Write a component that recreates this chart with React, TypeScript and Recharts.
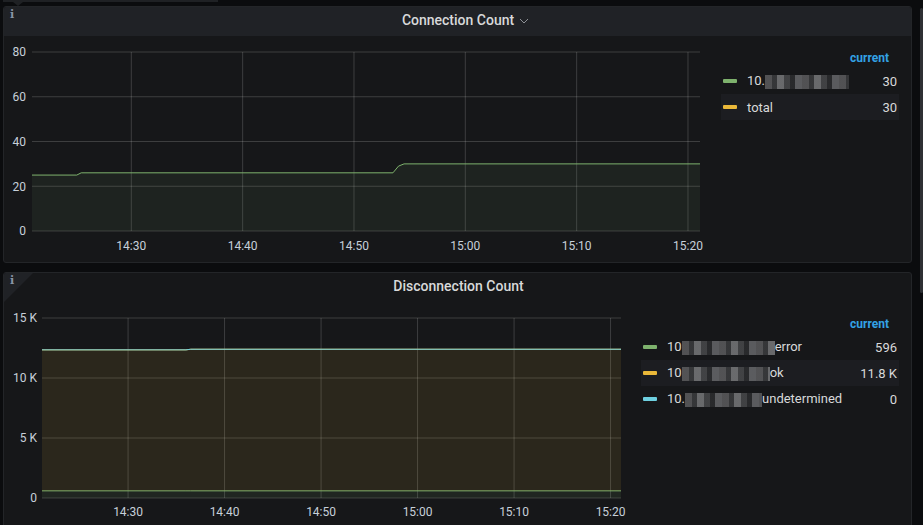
import { Area, AreaChart, CartesianGrid, XAxis, YAxis } from 'recharts'

// time is minutes since midnight (861 = 14:21)
const connTimes = [861, 865.1, 865.5, 893.5, 894.0, 894.5, 922]
const connValues = [25, 25, 26, 26, 29, 30, 30]

const discTimes = [861, 876, 876.5, 922]
const discError = [596, 596, 596, 596]
const discOk = [11750, 11750, 11800, 11800]
const discUndetermined = [0, 0, 0, 0]

const timeTicks = [870, 880, 890, 900, 910, 920]
const connTicks = [0, 20, 40, 60, 80]
const discTicks = [0, 5000, 10000, 15000]

// '#' marks the blurred part of the series name
const connNames = ['10.#', 'total']
const connCurrent = ['30', '30']
const discNames = ['10#error', '10#ok', '10.#undetermined']
const discCurrent = ['596', '11.8 K', '0']

const connData = connTimes.map((t, i) => ({ t, conn: connValues[i] }))
const discData = discTimes.map((t, i) => ({
  t,
  error: discError[i],
  ok: discOk[i],
  undetermined: discUndetermined[i],
}))

const GREEN = '#7eb26d'
const YELLOW = '#eab839'
const CYAN = '#6ed0e0'
const GRID = 'rgba(255,255,255,0.17)'
const TICK = { fill: '#c7d0d9', fontSize: 12, fontFamily: 'Roboto' }
const X_DOMAIN: [number, number] = [861.08, 921.08]

const fmtTime = (m: number) => {
  const h = Math.floor(m / 60)
  const mm = Math.round(m - h * 60)
  return `${h}:${mm < 10 ? '0' + mm : mm}`
}
const fmtK = (v: number) => (v === 0 ? '0' : `${v / 1000} K`)

// vertical grid only at the time ticks, not at the plot edges
const timeGridLines = ({ xAxis, offset }: any) =>
  timeTicks.map((t) =>
    xAxis && typeof xAxis.scale === 'function'
      ? xAxis.scale(t)
      : offset.left + ((t - X_DOMAIN[0]) / (X_DOMAIN[1] - X_DOMAIN[0])) * offset.width,
  )

function Mosaic({ width }: { width: number }) {
  return (
    <span
      style={{
        display: 'inline-block',
        width,
        height: 14,
        verticalAlign: 'middle',
        background:
          'repeating-linear-gradient(90deg, #5c5c5e 0 7px, #3b3c3e 7px 12px, #77787a 12px 19px, #48494b 19px 25px, #2c2d2f 25px 30px, #66676a 30px 37px)',
        opacity: 0.85,
      }}
    />
  )
}

function LegendBlock({
  left,
  top,
  names,
  current,
  colors,
  masks,
  highlight,
}: {
  left: number
  top: number
  names: string[]
  current: string[]
  colors: string[]
  masks: number[]
  highlight: number
}) {
  const width = 899 - left
  return (
    <div style={{ position: 'absolute', left, top, width, fontFamily: 'Roboto', fontSize: 13, color: '#d8d9da' }}>
      <div
        style={{
          position: 'absolute',
          right: 10,
          top: 0,
          height: 16,
          lineHeight: '16px',
          color: '#33a2e5',
          fontWeight: 700,
          fontSize: 12,
        }}
      >
        current
      </div>
      {names.map((n, i) => {
        const [pre, post] = n.includes('#') ? n.split('#') : [n, null]
        return (
          <div
            key={i}
            style={{
              position: 'absolute',
              left: 0,
              top: 18 + i * 26,
              width,
              height: 26,
              display: 'flex',
              alignItems: 'center',
              background: i === highlight ? '#1c1d21' : 'transparent',
            }}
          >
            <span style={{ width: 14, height: 4, marginLeft: 2, background: colors[i], borderRadius: 1 }} />
            <span style={{ marginLeft: 10, whiteSpace: 'nowrap' }}>
              {pre}
              {post !== null && <Mosaic width={masks[i]} />}
              {post}
            </span>
            <span style={{ marginLeft: 'auto', marginRight: 2 }}>{current[i]}</span>
          </div>
        )
      })}
    </div>
  )
}

function InfoIcon({ top }: { top: number }) {
  return (
    <div
      style={{
        position: 'absolute',
        left: 10,
        top,
        fontFamily: 'DejaVu Serif',
        fontWeight: 700,
        fontSize: 11,
        color: '#8a94a6',
        lineHeight: '12px',
      }}
    >
      i
    </div>
  )
}

export default function App() {
  return (
    <div
      style={{
        position: 'absolute',
        left: 0,
        top: 0,
        width: 923,
        height: 525,
        overflow: 'hidden',
        background: '#0b0c0e',
        fontFamily: 'Roboto',
      }}
    >
      {/* tooltip remnant at the top */}
      <div style={{ position: 'absolute', left: 3, top: 0, width: 215, height: 2, background: '#1f2124' }} />
      <div
        style={{
          position: 'absolute',
          left: 13,
          top: 2,
          width: 0,
          height: 0,
          borderLeft: '5px solid transparent',
          borderRight: '5px solid transparent',
          borderTop: '4px solid #1f2124',
        }}
      />
      {/* scrollbar */}
      <div style={{ position: 'absolute', left: 920, top: 8, width: 3, height: 285, background: '#2e3034', borderRadius: 2 }} />

      {/* panel 1 */}
      <div
        style={{
          position: 'absolute',
          left: 3,
          top: 6,
          width: 907,
          height: 255,
          background: '#161719',
          border: '1px solid #232528',
          borderRadius: 3,
          overflow: 'hidden',
        }}
      >
        <div style={{ position: 'absolute', left: 0, top: 0, width: '100%', height: 29, background: '#202226' }} />
      </div>
      <InfoIcon top={9} />
      <div
        style={{
          position: 'absolute',
          left: 0,
          width: 923,
          top: 11,
          textAlign: 'center',
          color: '#d8d9da',
          fontSize: 14,
          fontWeight: 500,
          lineHeight: '18px',
        }}
      >
        <span style={{ marginLeft: 8 }}>Connection Count</span>
        <svg width={10} height={8} style={{ marginLeft: 5, verticalAlign: 'middle' }}>
          <polyline points="1,2 5,6 9,2" fill="none" stroke="#8e9196" strokeWidth={1} />
        </svg>
      </div>

      <div style={{ position: 'absolute', left: 0, top: 40 }}>
        <AreaChart width={710} height={220} data={connData} margin={{ top: 12, right: 10, bottom: 0, left: 0 }}>
          <CartesianGrid stroke={GRID} verticalCoordinatesGenerator={timeGridLines} />
          <XAxis
            dataKey="t"
            type="number"
            domain={X_DOMAIN}
            allowDataOverflow
            ticks={timeTicks}
            tickFormatter={fmtTime}
            tick={TICK}
            tickSize={0}
            tickMargin={10}
            axisLine={false}
            height={29}
          />
          <YAxis
            type="number"
            domain={[0, 80]}
            ticks={connTicks}
            tick={TICK}
            tickSize={0}
            tickMargin={6}
            axisLine={false}
            width={32}
          />
          <Area
            type="linear"
            dataKey="conn"
            stroke={GREEN}
            strokeWidth={1}
            fill={GREEN}
            fillOpacity={0.08}
            dot={false}
            activeDot={false}
            isAnimationActive={false}
          />
        </AreaChart>
      </div>

      <LegendBlock
        left={721}
        top={50}
        names={connNames}
        current={connCurrent}
        colors={[GREEN, YELLOW]}
        masks={[84, 0]}
        highlight={1}
      />

      {/* panel 2 */}
      <div
        style={{
          position: 'absolute',
          left: 3,
          top: 272,
          width: 907,
          height: 270,
          background: '#161719',
          border: '1px solid #232528',
          borderRadius: 3,
          overflow: 'hidden',
        }}
      >
        <div
          style={{
            position: 'absolute',
            left: 0,
            top: 0,
            width: 0,
            height: 0,
            borderTop: '29px solid #202226',
            borderRight: '29px solid transparent',
          }}
        />
      </div>
      <InfoIcon top={275} />
      <div
        style={{
          position: 'absolute',
          left: 0,
          width: 917,
          top: 277,
          textAlign: 'center',
          color: '#d8d9da',
          fontSize: 14,
          fontWeight: 500,
          lineHeight: '18px',
        }}
      >
        Disconnection Count
      </div>

      <div style={{ position: 'absolute', left: 0, top: 306 }}>
        <AreaChart width={631} height={219} data={discData} margin={{ top: 12, right: 10, bottom: 0, left: 0 }}>
          <CartesianGrid stroke={GRID} verticalCoordinatesGenerator={timeGridLines} />
          <XAxis
            dataKey="t"
            type="number"
            domain={X_DOMAIN}
            allowDataOverflow
            ticks={timeTicks}
            tickFormatter={fmtTime}
            tick={TICK}
            tickSize={0}
            tickMargin={9}
            axisLine={false}
            height={27}
          />
          <YAxis
            type="number"
            domain={[0, 15000]}
            ticks={discTicks}
            tickFormatter={fmtK}
            tick={TICK}
            tickSize={0}
            tickMargin={5}
            axisLine={false}
            width={42}
          />
          <Area
            type="linear"
            dataKey="error"
            stackId="1"
            stroke={GREEN}
            strokeWidth={1}
            fill={GREEN}
            fillOpacity={0.1}
            dot={false}
            activeDot={false}
            isAnimationActive={false}
          />
          <Area
            type="linear"
            dataKey="ok"
            stackId="1"
            stroke={YELLOW}
            strokeWidth={1}
            fill={YELLOW}
            fillOpacity={0.1}
            dot={false}
            activeDot={false}
            isAnimationActive={false}
          />
          <Area
            type="linear"
            dataKey="undetermined"
            stackId="1"
            stroke={CYAN}
            strokeWidth={1}
            fill={CYAN}
            fillOpacity={0.1}
            dot={false}
            activeDot={false}
            isAnimationActive={false}
          />
        </AreaChart>
      </div>

      <LegendBlock
        left={641}
        top={316}
        names={discNames}
        current={discCurrent}
        colors={[GREEN, YELLOW, CYAN]}
        masks={[93, 88, 77]}
        highlight={1}
      />
    </div>
  )
}
